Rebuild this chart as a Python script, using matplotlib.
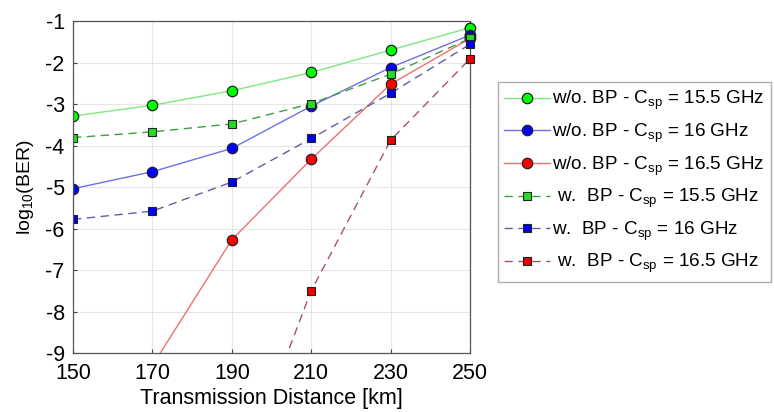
import numpy as np
import matplotlib
matplotlib.use('Agg')
import matplotlib.pyplot as plt

plt.rcParams['font.family'] = ['Liberation Sans', 'DejaVu Sans']
plt.rcParams['mathtext.fontset'] = 'custom'
plt.rcParams['mathtext.rm'] = 'Liberation Sans'
plt.rcParams['mathtext.it'] = 'Liberation Sans'
plt.rcParams['axes.unicode_minus'] = False

distance = [150, 170, 190, 210, 230, 250]

# without back-propagation
wo_155 = [-3.29, -3.03, -2.68, -2.24, -1.70, -1.16]
wo_16 = [-5.04, -4.63, -4.07, -3.05, -2.12, -1.34]
wo_165 = [-12.3, -9.3, -6.27, -4.33, -2.52, -1.42]

# with back-propagation
w_155 = [-3.81, -3.67, -3.48, -2.99, -2.28, -1.42]
w_16 = [-5.78, -5.58, -4.88, -3.83, -2.74, -1.56]
w_165 = [np.nan, -17.5, -12.5, -7.5, -3.87, -1.91]

labels = [
    r'w/o. BP - C$_{\mathrm{sp}}$ = 15.5 GHz',
    r'w/o. BP - C$_{\mathrm{sp}}$ = 16 GHz',
    r'w/o. BP - C$_{\mathrm{sp}}$ = 16.5 GHz',
    r' w.  BP - C$_{\mathrm{sp}}$ = 15.5 GHz',
    r'w.  BP - C$_{\mathrm{sp}}$ = 16 GHz',
    r' w.  BP - C$_{\mathrm{sp}}$ = 16.5 GHz',
]

fig = plt.figure(figsize=(7.74, 4.12), dpi=100)
ax = fig.add_axes([0.0943, 0.143, 0.513, 0.806])

solid = [(wo_155, '#7fe87f', '#00ff00'),
         (wo_16, '#6f6fe8', '#0000ff'),
         (wo_165, '#ee7070', '#ff0000')]
dashed = [(w_155, '#3f9f3f', '#22dd22'),
          (w_16, '#5f5fa8', '#0000ee'),
          (w_165, '#a85070', '#ee0000')]

handles = []
for vals, lc, mc in solid:
    h, = ax.plot(distance, vals, '-', color=lc, lw=1.0, marker='o', ms=7.5,
                 mfc=mc, mec='#222222', mew=0.9)
    handles.append(h)
for vals, lc, mc in dashed:
    h, = ax.plot(distance, vals, '--', color=lc, lw=1.0, dashes=(6, 4),
                 marker='s', ms=6, mfc=mc, mec='#222222', mew=0.8)
    handles.append(h)

# markers at the right edge are drawn over the frame
for line in handles:
    x, y = line.get_data()
    ax.plot(x[-1:], y[-1:], linestyle='none', marker=line.get_marker(),
            ms=line.get_markersize(), mfc=line.get_markerfacecolor(),
            mec='#222222', mew=line.get_markeredgewidth(), clip_on=False, zorder=5)

ax.set_xlim(150, 250)
ax.set_ylim(-9, -1)
ax.set_xticks(distance)
ax.set_yticks(range(-9, 0))
ax.grid(True, color='#e6e6e6', lw=0.8)
ax.set_axisbelow(True)
ax.tick_params(direction='in', length=3, labelsize=15.5, color='#444444')
ax.tick_params(axis='x', pad=7)
ax.tick_params(axis='y', pad=6)
for sp in ax.spines.values():
    sp.set_color('#555555')
    sp.set_linewidth(0.9)

ax.set_xlabel('Transmission Distance [km]', fontsize=15.5, labelpad=3)
ax.set_ylabel(r'log$_{10}$(BER)', fontsize=14, labelpad=7)

leg = fig.legend(handles, labels, loc='upper left', bbox_to_anchor=(0.643, 0.80),
                 fontsize=13.6, frameon=True, fancybox=False, edgecolor='#999999',
                 handlelength=2.4, handletextpad=0.1, labelspacing=0.5,
                 borderpad=0.35, borderaxespad=0)
leg.get_frame().set_linewidth(1.0)

fig.savefig('out.png', dpi=100)
